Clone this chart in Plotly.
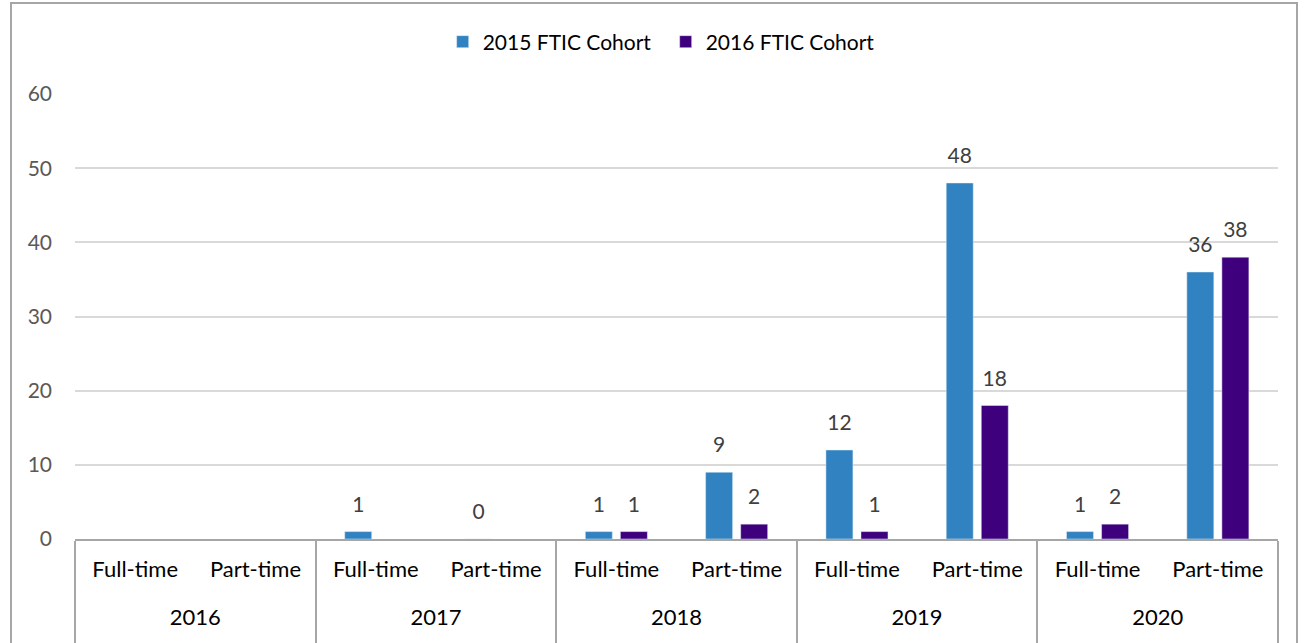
import plotly.graph_objects as go

years = ["2016", "2016", "2017", "2017", "2018", "2018", "2019", "2019", "2020", "2020"]
status = ["Full-time", "Part-time"] * 5
cohort_2015 = [None, None, 1, 0, 1, 9, 12, 48, 1, 36]
cohort_2016 = [None, None, None, None, 1, 2, 1, 18, 2, 38]

font_family = "Lato, 'Open Sans', sans-serif"

# pad the outer (year) labels so they sit lower, like the Excel original
year_labels = ["<br>" + y + "<br>&nbsp;" for y in years]

series = [("2015 FTIC Cohort", cohort_2015, "#3182C0"),
          ("2016 FTIC Cohort", cohort_2016, "#3E007D")]

fig = go.Figure()
for name, vals, color in series:
    fig.add_trace(go.Bar(
        x=[year_labels, status],
        y=vals,
        name=name,
        marker_color=color,
    ))

# value labels: grouped text-only scatter, lifted a bit above the bars (Excel style)
for name, vals, color in series:
    fig.add_trace(go.Scatter(
        x=[year_labels, status],
        y=vals,
        mode="markers+text",
        marker=dict(size=22, color="rgba(0,0,0,0)"),
        text=[("" if v is None else str(v)) for v in vals],
        textposition="top center",
        textfont=dict(size=21, color="#404040"),
        showlegend=False,
        hoverinfo="skip",
        cliponaxis=False,
    ))

fig.update_layout(
    width=1307, height=643,
    margin=dict(l=75, r=29, t=94, b=104),
    paper_bgcolor="white",
    plot_bgcolor="white",
    font=dict(family=font_family, size=21, color="#000000"),
    barmode="group",
    bargap=0.417,
    bargroupgap=0.23,
    scattermode="group",
    scattergap=0.417,
    showlegend=True,
    legend=dict(orientation="h", x=0.491, xanchor="center",
                yref="container", y=1 - 42 / 643, yanchor="middle",
                font=dict(size=21, color="#000000"), itemwidth=30,
                entrywidth=178,
                traceorder="normal"),
    shapes=[dict(type="rect", xref="paper", yref="paper",
                 x0=(11 - 75) / 1203, x1=(1297 - 75) / 1203,
                 y0=-130 / 445, y1=(539 - 3) / 445,
                 line=dict(color="#A6A6A6", width=2), layer="below")],
)

fig.update_xaxes(
    type="multicategory",
    automargin=False,
    showline=True, linecolor="#A6A6A6", linewidth=2,
    showgrid=False,
    dividercolor="#A6A6A6", dividerwidth=2,
    tickfont=dict(size=22, color="#000000"),
    ticklabelstandoff=10,
)
fig.update_yaxes(
    automargin=False,
    range=[0, 60], dtick=10,
    showgrid=True, gridcolor="#D9D9D9", gridwidth=1.5,
    zeroline=False,
    tickfont=dict(size=21, color="#595959"),
    ticklabelstandoff=22,
)

fig.write_html("out.html", config={"displayModeBar": False},
               post_script="document.body.style.margin='0';")
